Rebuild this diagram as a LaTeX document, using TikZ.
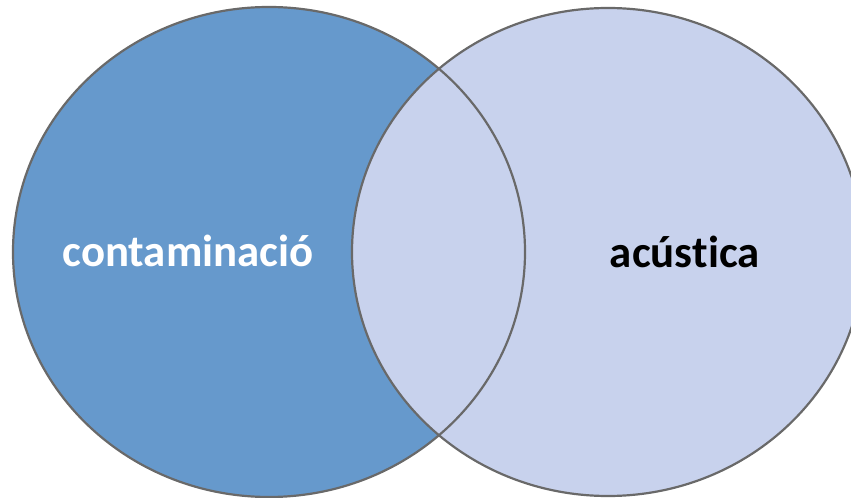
\documentclass[tikz,border=0pt]{standalone}
\usepackage{fontspec}
\setmainfont[Ligatures={NoCommon,NoContextual}]{Carlito}
\definecolor{leftfill}{RGB}{102,153,204}
\definecolor{rightfill}{RGB}{200,210,237}
\definecolor{edge}{RGB}{105,105,105}
\begin{document}
\begin{tikzpicture}[x=1bp,y=-1bp,
  rim/.style={draw=edge,line width=2.2bp},
  lbl/.style={anchor=base,font=\fontsize{45}{50}\selectfont\bfseries,inner sep=0pt}]
\useasboundingbox (0,0) rectangle (851,498);
\clip (0,0) rectangle (851,498);
\fill[leftfill] (269,252) ellipse [x radius=256,y radius=245];
\fill[rightfill] (608,252) ellipse [x radius=256,y radius=244];
\draw[rim] (269,252) ellipse [x radius=256,y radius=245];
\draw[rim] (608,252) ellipse [x radius=256,y radius=244];
\node[lbl,text=white] (contam) at (188,267) {contaminació};
\node[lbl,text=black] (acust) at (685,268) {acús\kern0pt tica};
\end{tikzpicture}
\end{document}
